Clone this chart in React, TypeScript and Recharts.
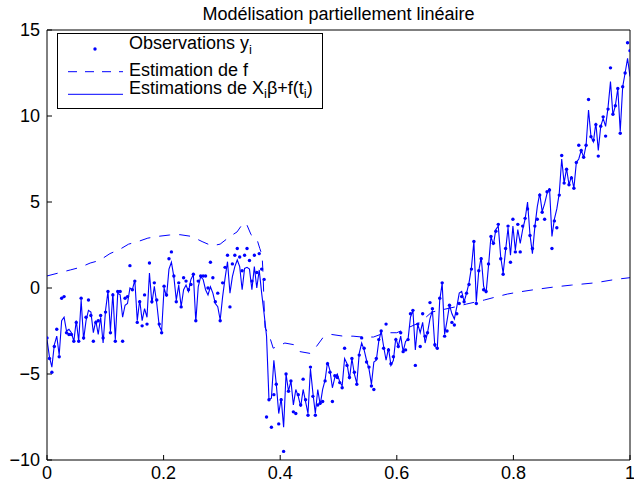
import { ComposedChart, Line, Scatter, XAxis, YAxis, Legend } from "recharts";

const xTicks = [0, 0.2, 0.4, 0.6, 0.8, 1];
const yTicks = [-10, -5, 0, 5, 10, 15];

// fitted values X_i*beta + f(t_i), one per observation, t evenly spaced on [0, 1]
const fitted = [
  -3.0, -4.0, -4.6, -3.3, -2.8, -3.9, -1.9, -1.7, -2.5, -2.4,
  -2.6, -3.1, -1.9, -3.1, -0.7, -3.0, -1.9, -1.3, -1.4, -2.6,
  -1.9, -2.7, -1.7, -3.2, -1.3, -0.2, -2.5, -0.3, -3.0, -0.3,
  -0.4, -1.7, -1.0, -0.9, 0.0, -0.1, 0.46, -1.9, -0.7, -1.9,
  -1.2, -1.7, 0.87, -0.9, 0.1, -0.9, -2.2, -2.5, 0.0, -0.5,
  1.1, 1.5, 0.66, -0.7, 0.17, -1.09, -0.1, 0.17, -0.2, 0.5,
  0.78, -1.96, 0.07, 0.66, 0.5, -0.1, -0.4, 0.07, -0.3, -0.9,
  -1.09, -1.86, -0.5, 0.57, 1.53, -0.3, 0.66, 1.24, 1.63, 1.24,
  -0.1, 1.14, 1.2, 1.1, -0.1, 1.24, 0.0, 1.05, -0.3, -1.5,
  -2.8, -6.5, -6.4, -4.2, -5.6, -7.3, -6.4, -8.1, -5.0, -6.0,
  -5.4, -6.8, -5.9, -6.3, -6.9, -5.9, -6.6, -7.3, -4.7, -6.1,
  -7.3, -5.9, -6.8, -5.9, -5.35, -4.3, -4.8, -5.8, -5.2, -5.0,
  -5.45, -5.7, -4.1, -4.4, -5.3, -4.1, -5.0, -5.55, -3.8, -3.2,
  -3.6, -4.2, -4.7, -5.6, -4.3, -4.2, -3.1, -2.5, -3.4, -4.2,
  -3.5, -4.5, -4.2, -2.9, -3.4, -2.8, -3.7, -3.1, -3.0, -1.7,
  -1.3, -3.6, -2.1, -2.6, -2.0, -3.2, -2.6, -1.8, -1.3, -3.4,
  -3.5, -0.7, 0.27, -2.7, -1.9, -1.0, -1.5, -1.8, -1.1, -0.3,
  -0.2, -0.8, -0.3, 0.3, 1.2, 2.7, -0.8, 1.0, 1.8, 0.1,
  -0.3, 1.3, 3.0, 2.5, 3.4, 3.6, 1.8, 0.85, 2.2, 3.5,
  1.9, 3.6, 2.2, 3.4, 2.6, 3.4, 4.0, 5.0, 3.1, 2.0,
  3.57, 4.73, 5.5, 4.44, 4.9, 5.5, 5.8, 3.0, 4.0, 4.6,
  5.5, 7.5, 6.1, 6.95, 6.0, 6.5, 5.8, 7.3, 7.5, 8.0,
  7.6, 8.3, 10.35, 8.8, 8.5, 9.6, 8.0, 9.4, 9.86, 9.4,
  10.5, 12.0, 10.05, 10.6, 11.6, 9.1, 11.7, 12.5, 13.35, 12.3,
];

// observations y_i
const observed = [
  -2.9, -4.1, -4.9, -3.4, -2.4, -4.0, -0.6, -0.5, -2.6, -2.7,
  -2.7, -3.1, -2.0, -3.1, -0.6, -2.9, -1.7, -0.7, -1.6, -3.1,
  -2.0, -1.9, -1.6, -2.9, -1.4, -0.2, -2.6, -0.4, -3.1, -0.2,
  -0.2, -3.1, -0.6, -0.5, 1.3, -0.1, 0.4, -2.0, -0.8, -2.2,
  -0.4, -2.1, 1.45, -0.8, 0.3, -0.7, -2.1, -2.6, 0.1, -0.4,
  1.7, 2.1, 0.7, -0.8, 0.3, -1.1, 0.6, 0.4, -0.1, 0.2,
  0.8, -1.9, 0.4, 0.7, 0.7, 0.7, 0.0, 1.5, 0.6, -0.8,
  -0.3, -1.9, 0.3, 1.2, 1.9, -1.1, 1.4, 1.9, 2.3, 1.8,
  1.0, 1.9, 2.3, 1.6, 0.4, 1.9, 0.9, 2.0, 1.1, 0.5,
  -7.5, -6.5, -8.1, -6.2, -5.6, -7.9, -6.5, -9.5, -5.0, -6.0,
  -5.4, -7.2, -7.3, -6.2, -6.8, -5.3, -6.5, -7.4, -4.6, -6.3,
  -7.4, -6.8, -6.7, -6.6, -5.4, -4.4, -4.9, -6.6, -5.1, -5.2,
  -5.5, -5.8, -3.5, -4.5, -5.2, -4.1, -4.9, -5.6, -3.9, -2.9,
  -3.5, -4.3, -4.6, -5.7, -5.9, -4.1, -3.0, -2.5, -3.5, -2.1,
  -3.6, -4.4, -4.0, -3.0, -3.4, -2.6, -3.7, -3.6, -3.0, -1.5,
  -1.3, -4.5, -2.1, -3.4, -1.5, -2.8, -2.6, -0.85, -1.2, -3.3,
  -3.5, -0.6, 0.3, -2.8, -2.5, -1.0, -2.0, -2.15, -1.5, -0.9,
  -0.5, -0.8, -0.3, 0.2, 1.1, 2.7, -0.9, 1.0, 1.7, -0.1,
  -0.2, 1.4, 3.0, 2.6, 3.3, 3.7, 1.7, 0.8, 2.3, 3.6,
  1.5, 4.0, 2.1, 3.7, 2.1, 3.6, 4.05, 4.6, 3.05, 2.3,
  3.6, 4.0, 5.4, 4.4, 4.0, 5.6, 5.7, 2.3, 3.9, 3.5,
  5.4, 7.7, 6.1, 6.9, 6.0, 6.4, 5.8, 7.3, 8.3, 8.0,
  7.6, 8.3, 10.96, 8.8, 8.6, 9.5, 7.67, 9.4, 9.95, 8.83,
  10.4, 12.8, 10.1, 10.6, 11.6, 9.0, 11.7, 12.5, 14.26, 13.8,
];

// estimated smooth part f(t)
const fT = [
  0, 0.04, 0.057, 0.074, 0.09, 0.108, 0.125, 0.14, 0.156, 0.173, 0.19, 0.21,
  0.228, 0.248, 0.266, 0.283, 0.297, 0.314, 0.326, 0.337, 0.343, 0.35, 0.36,
  0.365, 0.369, 0.371, 0.372, 0.374, 0.382, 0.388, 0.408, 0.424, 0.434, 0.451,
  0.46, 0.473, 0.488, 0.508, 0.525, 0.54, 0.56, 0.58, 0.6, 0.62, 0.64, 0.66,
  0.7, 0.72, 0.75, 0.77, 0.79, 0.81, 0.835, 0.87, 0.9, 0.94, 0.975, 1,
];
const fV = [
  0.7, 1.05, 1.2, 1.45, 1.6, 2.0, 2.25, 2.55, 2.7, 2.9, 3.0, 3.08,
  3.1, 3.0, 2.7, 2.45, 2.55, 3.0, 3.26, 3.8, 3.66, 3.1, 2.85,
  2.3, 1.9, 0.5, -0.7, -2.3, -2.85, -3.5, -3.2, -3.3, -3.7, -3.8,
  -3.5, -2.9, -2.7, -2.8, -2.8, -2.85, -2.85, -2.6, -2.6, -2.3, -2.0, -1.4,
  -1.1, -0.93, -0.7, -0.52, -0.35, -0.23, -0.1, 0.06, 0.17, 0.3, 0.5, 0.6,
];

const rows = fitted.map((fit, i) => ({
  t: i / (fitted.length - 1),
  y: observed[i],
  fit,
}));
const fRows = fT.map((t, i) => ({ t, f: fV[i] }));

const BLUE = "#0000ff";
const FONT = "'Liberation Sans', Arial, Helvetica, sans-serif";
const tickStyle = { fill: "#000", fontSize: 18, fontFamily: FONT };

const fmt = (v: number) => (v < 0 ? "\u2212" + Math.abs(v) : String(v));

const Dot = (props: any) => (
  <circle cx={props.cx} cy={props.cy} r={1.7} fill={BLUE} />
);

const LegendBox = () => (
  <svg width={267} height={77} style={{ display: "block", overflow: "visible" }}>
    <rect x={0.5} y={0.5} width={265} height={75} fill="#fff" stroke="#000" />
    <circle cx={38} cy={16} r={1.7} fill={BLUE} />
    <line x1={11} x2={66} y1={38.7} y2={38.7} stroke={BLUE} strokeDasharray="9 8" />
    <line x1={11} x2={66} y1={61.3} y2={61.3} stroke={BLUE} />
    <g fontFamily={FONT} fontSize={18} fill="#000">
      <text x={72} y={15.5}>
        Observations y<tspan fontSize={13} dy={5}>i</tspan>
      </text>
      <text x={72} y={43}>Estimation de f</text>
      <text x={72} y={61.3}>
        Estimations de X<tspan fontSize={13} dy={4}>i</tspan>
        <tspan dy={-4}>β+f(t</tspan>
        <tspan fontSize={13} dy={4}>i</tspan>
        <tspan dy={-4}>)</tspan>
      </text>
    </g>
  </svg>
);

export default function App() {
  return (
    <div
      style={{
        position: "absolute",
        left: 0,
        top: 0,
        width: 634,
        height: 483,
        background: "#fff",
      }}
    >
      {/* Title */}
      <div
        style={{
          position: "absolute",
          left: 47,
          width: 583,
          top: 5,
          textAlign: "center",
          fontFamily: FONT,
          fontSize: 18,
          lineHeight: "18px",
          color: "#000",
        }}
      >
        Modélisation partiellement linéaire
      </div>

      <ComposedChart
        width={634}
        height={483}
        data={rows}
        margin={{ top: 29, right: 3, bottom: 0, left: 0 }}
      >
        <XAxis
          dataKey="t"
          type="number"
          domain={[0, 1]}
          ticks={xTicks}
          interval={0}
          allowDataOverflow
          height={23}
          tickSize={-5}
          tickMargin={11}
          tick={tickStyle}
          stroke="#000"
        />
        <XAxis
          xAxisId="top"
          orientation="top"
          dataKey="t"
          type="number"
          domain={[0, 1]}
          ticks={xTicks}
          interval={0}
          allowDataOverflow
          height={1}
          tickSize={-5}
          tick={false}
          stroke="#000"
        />
        <YAxis
          type="number"
          domain={[-10, 15]}
          ticks={yTicks}
          interval={0}
          allowDataOverflow
          width={47}
          tickSize={-5}
          tickMargin={12}
          tick={tickStyle}
          tickFormatter={fmt}
          stroke="#000"
        />
        <YAxis
          yAxisId="right"
          orientation="right"
          type="number"
          domain={[-10, 15]}
          ticks={yTicks}
          interval={0}
          allowDataOverflow
          width={1}
          tickSize={-5}
          tick={false}
          stroke="#000"
        />
        <Line
          data={fRows}
          dataKey="f"
          xAxisId="top"
          yAxisId="right"
          type="linear"
          stroke={BLUE}
          strokeWidth={1}
          strokeDasharray="11 9"
          dot={false}
          activeDot={false}
          isAnimationActive={false}
        />
        <Line
          dataKey="fit"
          type="linear"
          stroke={BLUE}
          strokeWidth={1.1}
          dot={false}
          activeDot={false}
          isAnimationActive={false}
        />
        <Scatter dataKey="y" shape={Dot} isAnimationActive={false} />
        <Legend
          layout="horizontal"
          verticalAlign="middle"
          align="center"
          content={() => <LegendBox />}
          wrapperStyle={{ left: 57, top: 33, width: 267, height: 77 }}
        />
      </ComposedChart>
    </div>
  );
}
